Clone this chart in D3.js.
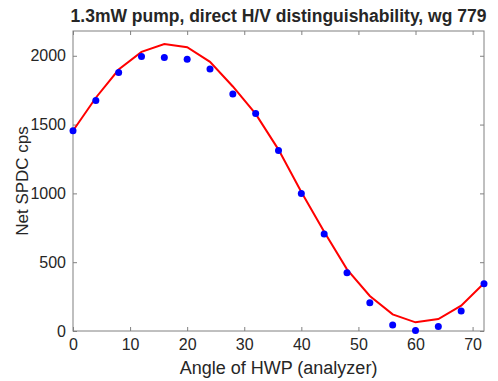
<!DOCTYPE html>
<html lang="en">
  <head>
    <meta charset="UTF-8" />
    <title>SPDC vs HWP angle</title>
    <script src="https://d3js.org/d3.v7.min.js"></script>
    <style>
      body { margin: 0; background: #fff; }
      text { font-family: "Liberation Sans", Arial, sans-serif; fill: #262626; }
    </style>
  </head>
  <body>
    <div id="chart"></div>
    <script>
      const angles = [0, 4, 8, 12, 16, 20, 24, 28, 32, 36, 40, 44, 48, 52, 56, 60, 64, 68, 72];
      const measured = [1455, 1675, 1878, 1995, 1988, 1975, 1903, 1723, 1580, 1312, 1000, 705, 424, 206, 44, 4, 32, 145, 344];
      const fitted = [1455, 1695, 1900, 2028, 2085, 2062, 1956, 1777, 1578, 1318, 1010, 722, 448, 255, 121, 63, 87, 184, 347];
      const xTicks = [0, 10, 20, 30, 40, 50, 60, 70];
      const yTicks = [0, 500, 1000, 1500, 2000];

      const W = 498, H = 381;
      const m = { top: 31, right: 14, bottom: 50, left: 73 };
      const width = W - m.left - m.right;
      const height = H - m.top - m.bottom;

      const svg = d3.select("#chart").append("svg")
        .attr("width", W).attr("height", H);
      const g = svg.append("g").attr("transform", `translate(${m.left},${m.top})`);

      const x = d3.scaleLinear().domain([0, 72]).range([0, width]);
      const y = d3.scaleLinear().domain([0, 2180]).range([height, 0]);

      const axisColor = "#808080";
      const styleAxis = (sel) => {
        sel.select(".domain").remove();
        sel.selectAll(".tick line").attr("stroke", axisColor);
        sel.selectAll(".tick text").style("font-size", "16px").attr("fill", "#262626");
      };

      g.append("g").attr("transform", `translate(0,${height})`)
        .call(d3.axisBottom(x).tickValues(xTicks).tickSizeInner(-4).tickPadding(8))
        .call(styleAxis);
      g.append("g")
        .call(d3.axisTop(x).tickValues(xTicks).tickSizeInner(-4).tickFormat(""))
        .call(styleAxis);
      g.append("g")
        .call(d3.axisLeft(y).tickValues(yTicks).tickSizeInner(-4).tickPadding(7).tickFormat(d3.format("d")))
        .call(styleAxis);
      g.append("g").attr("transform", `translate(${width},0)`)
        .call(d3.axisRight(y).tickValues(yTicks).tickSizeInner(-4).tickFormat(""))
        .call(styleAxis);

      g.append("rect")
        .attr("width", width).attr("height", height)
        .attr("fill", "none").attr("stroke", axisColor).attr("stroke-width", 1);

      const pts = angles.map((a, i) => ({ a, m: measured[i], f: fitted[i] }));

      g.append("path").datum(pts)
        .attr("fill", "none").attr("stroke", "#ff0000").attr("stroke-width", 2)
        .attr("d", d3.line().x(d => x(d.a)).y(d => y(d.f)));

      g.selectAll("circle.pt").data(pts).enter().append("circle")
        .attr("class", "pt")
        .attr("cx", d => x(d.a)).attr("cy", d => y(d.m))
        .attr("r", 3.5).attr("fill", "#0000ff");

      svg.append("text")
        .attr("x", m.left + width / 2).attr("y", 22)
        .attr("text-anchor", "middle")
        .style("font-size", "17.5px").style("font-weight", "bold").attr("fill", "#000")
        .text("1.3mW pump, direct H/V distinguishability, wg 779");

      svg.append("text")
        .attr("x", m.left + width / 2).attr("y", 374)
        .attr("text-anchor", "middle").style("font-size", "18px")
        .text("Angle of HWP (analyzer)");

      svg.append("text")
        .attr("transform", `translate(28,${m.top + height / 2}) rotate(-90)`)
        .attr("text-anchor", "middle").style("font-size", "17px")
        .text("Net SPDC cps");
    </script>
  </body>
</html>
